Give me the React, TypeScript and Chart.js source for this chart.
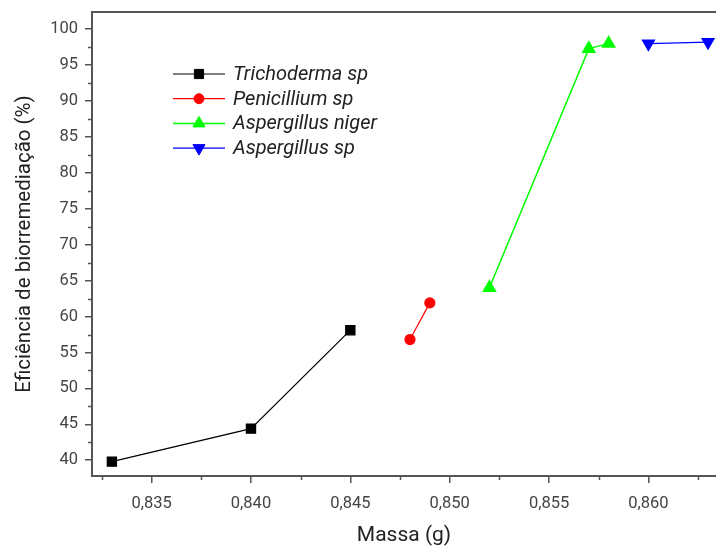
import React, { useEffect, useRef } from 'react';
import { Chart, registerables } from 'chart.js';
import { drawPoint } from 'chart.js/helpers';

Chart.register(...registerables);

// ---- data ----
const trichodermaMass = [0.833, 0.84, 0.845];
const trichodermaEff = [39.8, 44.4, 58.1];
const penicilliumMass = [0.848, 0.849];
const penicilliumEff = [56.8, 61.9];
const nigerMass = [0.852, 0.857, 0.858];
const nigerEff = [64.0, 97.3, 98.0];
const aspergillusMass = [0.86, 0.863];
const aspergillusEff = [98.0, 98.2];

const seriesNames = ['Trichoderma sp', 'Penicillium sp', 'Aspergillus niger', 'Aspergillus sp'];
const xRange = [0.832, 0.8634];
const yRange = [37.8, 102.4];
const xMajorStep = 0.005;
const yMajorStep = 5;
const xTitle = 'Massa (g)';
const yTitle = 'Eficiência de biorremediação (%)';

const AXIS = '#555555';
const FONT = 'Roboto';

const toPoints = (xs: number[], ys: number[]) => xs.map((x, i) => ({ x, y: ys[i] }));

const zeroPadding = (s: any) => {
  s.paddingTop = 0;
  s.paddingBottom = 0;
  s.paddingLeft = 0;
  s.paddingRight = 0;
};

const decorPlugin = {
  id: 'decor',
  afterDraw(chart: any) {
    const { ctx, chartArea: a, scales } = chart;
    ctx.save();
    ctx.strokeStyle = AXIS;
    ctx.lineWidth = 2;
    // top frame line
    ctx.beginPath();
    ctx.moveTo(a.left, a.top);
    ctx.lineTo(a.right, a.top);
    ctx.stroke();
    // minor ticks
    ctx.lineWidth = 1.5;
    const xs = scales.x;
    const xm = xMajorStep / 2;
    for (let k = Math.ceil(xs.min / xm - 1e-9); k * xm <= xs.max + 1e-12; k++) {
      if (k % 2 === 0) continue;
      const px = Math.round(xs.getPixelForValue(k * xm)) + 0.5;
      ctx.beginPath();
      ctx.moveTo(px, a.bottom);
      ctx.lineTo(px, a.bottom + 4);
      ctx.stroke();
    }
    const ys = scales.y;
    const ym = yMajorStep / 2;
    for (let k = Math.ceil(ys.min / ym - 1e-9); k * ym <= ys.max + 1e-9; k++) {
      if (k % 2 === 0) continue;
      const py = Math.round(ys.getPixelForValue(k * ym)) + 0.5;
      ctx.beginPath();
      ctx.moveTo(a.left, py);
      ctx.lineTo(a.left - 4, py);
      ctx.stroke();
    }
    // legend
    const rowY0 = a.top + 62;
    const rowGap = 24.7;
    const lineX0 = 173;
    const lineX1 = 225;
    chart.data.datasets.forEach((ds: any, i: number) => {
      const y = rowY0 + i * rowGap;
      ctx.strokeStyle = ds.borderColor;
      ctx.lineWidth = ds.borderWidth;
      ctx.beginPath();
      ctx.moveTo(lineX0, y);
      ctx.lineTo(lineX1, y);
      ctx.stroke();
      ctx.fillStyle = ds.pointBackgroundColor;
      ctx.strokeStyle = ds.pointBorderColor;
      ctx.lineWidth = 1;
      drawPoint(ctx, { pointStyle: ds.pointStyle, rotation: ds.pointRotation || 0, radius: ds.pointRadius, borderWidth: 1 }, (lineX0 + lineX1) / 2, y);
      ctx.fillStyle = '#222222';
      ctx.font = `italic 20px ${FONT}`;
      ctx.textBaseline = 'middle';
      ctx.textAlign = 'left';
      ctx.fillText(ds.label, 233, y + 1);
    });
    ctx.restore();
  },
};

export default function App() {
  const ref = useRef<HTMLCanvasElement>(null);
  useEffect(() => {
    document.body.style.margin = '0';
    const canvas = ref.current!;
    const chart = new Chart(canvas, {
      type: 'line',
      data: {
        datasets: [
          {
            label: seriesNames[0],
            data: toPoints(trichodermaMass, trichodermaEff),
            borderColor: '#000000',
            backgroundColor: '#000000',
            pointBackgroundColor: '#000000',
            pointBorderColor: '#000000',
            borderWidth: 1.2,
            pointStyle: 'rect',
            pointRadius: 6.5,
          },
          {
            label: seriesNames[1],
            data: toPoints(penicilliumMass, penicilliumEff),
            borderColor: '#ff0000',
            backgroundColor: '#ff0000',
            pointBackgroundColor: '#ff0000',
            pointBorderColor: '#ff0000',
            borderWidth: 1.2,
            pointStyle: 'circle',
            pointRadius: 5,
          },
          {
            label: seriesNames[2],
            data: toPoints(nigerMass, nigerEff),
            borderColor: '#00ff00',
            backgroundColor: '#00ff00',
            pointBackgroundColor: '#00ff00',
            pointBorderColor: '#00ff00',
            borderWidth: 1.5,
            pointStyle: 'triangle',
            pointRadius: 7,
          },
          {
            label: seriesNames[3],
            data: toPoints(aspergillusMass, aspergillusEff),
            borderColor: '#0000ff',
            backgroundColor: '#0000ff',
            pointBackgroundColor: '#0000ff',
            pointBorderColor: '#0000ff',
            borderWidth: 1.2,
            pointStyle: 'triangle',
            pointRotation: 180,
            pointRadius: 7,
          },
        ] as any,
      },
      options: {
        animation: false,
        responsive: false,
        maintainAspectRatio: false,
        layout: { autoPadding: false, padding: { top: 12, right: 0, left: 0, bottom: 0 } },
        elements: { line: { tension: 0 }, point: { borderWidth: 1 } },
        plugins: { legend: { display: false }, tooltip: { enabled: false } },
        scales: {
          x: {
            type: 'linear',
            min: xRange[0],
            max: xRange[1],
            afterFit: (s: any) => { s.height = 70; zeroPadding(s); },
            border: { color: AXIS, width: 2 },
            grid: { drawOnChartArea: false, drawTicks: true, tickLength: 7, color: AXIS, tickColor: AXIS, lineWidth: 1.5 },
            ticks: {
              stepSize: xMajorStep,
              includeBounds: false,
              padding: 11,
              color: '#444444',
              font: { family: FONT, size: 16.5 },
              maxRotation: 0,
              autoSkip: false,
              callback: (v: any) => Number(v).toFixed(3).replace('.', ','),
            },
            title: { display: true, text: xTitle, color: '#222222', font: { family: FONT, size: 21, lineHeight: 1.0 }, padding: { top: 0, bottom: 0 } },
          },
          y: {
            type: 'linear',
            min: yRange[0],
            max: yRange[1],
            afterFit: (s: any) => { s.width = 92; zeroPadding(s); },
            border: { color: AXIS, width: 2 },
            grid: { drawOnChartArea: false, drawTicks: true, tickLength: 7, color: AXIS, tickColor: AXIS, lineWidth: 1.5 },
            ticks: {
              stepSize: yMajorStep,
              includeBounds: false,
              padding: 7,
              color: '#444444',
              font: { family: FONT, size: 16.5 },
              autoSkip: false,
              callback: (v: any) => String(v),
            },
            title: { display: true, text: yTitle, color: '#222222', font: { family: FONT, size: 20.5, lineHeight: 1.0 }, padding: { top: 15, bottom: 0 } },
          },
        },
      },
      plugins: [decorPlugin],
    });
    return () => chart.destroy();
  }, []);
  return (
    <div style={{ width: 716, height: 546 }}>
      <canvas ref={ref} width={716} height={546} style={{ display: 'block' }} />
    </div>
  );
}
